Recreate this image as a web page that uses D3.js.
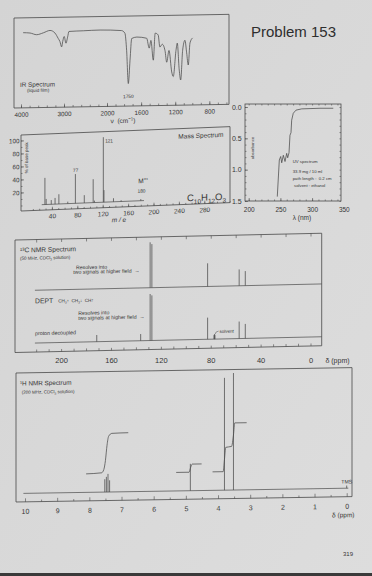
<!DOCTYPE html>
<html>
<head>
<meta charset="utf-8">
<script src="https://cdn.jsdelivr.net/npm/d3@7.9.0/dist/d3.min.js"></script>
<style>
  html, body { margin: 0; padding: 0; background: #d9d9d9; }
  svg { display: block; }
</style>
</head>
<body>
<svg id="page" width="372" height="576"></svg>
<script>
// ---------- data ----------
// IR spectrum (liquid film): wavenumber (cm-1) vs % transmittance
const irWavenumber = [3950, 3790, 3635, 3480, 3325, 3210, 3135, 3095, 3055, 3030, 2995, 2955, 2915, 2885, 2550, 2160, 1830, 1790, 1770, 1750, 1730, 1710, 1650, 1535, 1505, 1485, 1457, 1435, 1400, 1380, 1352, 1320, 1300, 1273, 1241, 1223, 1191, 1176, 1153, 1136, 1113, 1086, 1066, 1047, 1027, 996];
const irTransmittance = [83.5, 83, 81, 83, 85.5, 82.5, 76.5, 73, 67, 73, 78.5, 71, 78, 84, 84.5, 85, 84, 81, 62, 25, 51, 75, 76.5, 75, 64, 72.5, 50.5, 80.5, 78.5, 65, 68, 61, 48, 61, 37, 32, 61, 69, 39, 28, 61, 72, 58, 44.5, 69, 74.5];
const irTickLabels = [4000, 3000, 2000, 1600, 1200, 800];

// Mass spectrum: m/e vs % of base peak
const msMass = [29, 31, 39, 45, 51, 65, 77, 91, 105, 107, 121, 122, 137, 149, 180];
const msIntensity = [41, 8.5, 6.5, 9.5, 15, 3, 45, 12, 36, 3, 100, 18.5, 5.5, 2, 2.5];
const msXTickLabels = [40, 80, 120, 160, 200, 240, 280];
const msYTickLabels = [20, 40, 60, 80, 100];

// UV spectrum: wavelength (nm) vs absorbance
const uvWavelength = [245.1, 248.3, 250.5, 252.1, 254.6, 257.3, 259.9, 261.5, 263.6, 265.1, 266.7, 267.8, 270.3, 274.6, 283.6, 312.5, 333.4];
const uvAbsorbance = [1.43, 0.845, 0.79, 0.89, 0.77, 0.87, 0.74, 0.81, 0.73, 0.45, 0.41, 0.21, 0.1, 0.05, 0.03, 0.02, 0.02];
const uvXTickLabels = [200, 250, 300, 350];
const uvYTickLabels = [0, 0.5, 1.0, 1.5];

// 13C NMR: shift (ppm) vs relative height, upper trace and proton decoupled trace
const c13UpperShift = [128.6, 127.2, 82.5, 57.2, 52.3];
const c13UpperHeight = [100, 96, 51, 36, 32];
const c13LowerShift = [171.4, 136.2, 128.6, 127.2, 82.5, 77.4, 77.0, 76.6, 57.2, 52.3];
const c13LowerHeight = [14.4, 14.4, 100, 97, 46.5, 8.6, 10.8, 8.6, 36.6, 31.2];
const c13TickLabels = [200, 160, 120, 80, 40, 0];

// 1H NMR: shift (ppm) vs relative height, plus integral traces (H count)
const h1Shift = [7.52, 7.47, 7.42, 7.37, 4.86, 3.80, 3.52, 0];
const h1Height = [11, 13, 15.5, 10, 23, 96, 100, 2.3];
const h1IntegralShift = [
  [8.1, 7.62, 7.55, 7.5, 7.45, 7.4, 7.3, 6.79],
  [5.3, 4.9, 4.85, 4.8, 4.51],
  [4.17, 3.84, 3.80, 3.76, 3.58, 3.52, 3.48, 3.11]
];
const h1IntegralValue = [
  [0, 0.1, 0.5, 1.6, 3.5, 4.6, 4.95, 5],
  [0, 0, 0.6, 1, 1],
  [0, 0, 1.5, 3, 3.1, 4.5, 6, 6]
];
const h1TickLabels = d3.range(10, -1, -1);

// ---------- helpers ----------
const FONT = '"Liberation Sans", Arial, Helvetica, sans-serif';
const INK = '#4a4a4a';
const TXT = '#353535';

const svg = d3.select('#page').attr('font-family', FONT);

const grad = svg.append('defs').append('linearGradient')
  .attr('id', 'paper').attr('x1', 0).attr('y1', 0).attr('x2', 1).attr('y2', 1);
grad.append('stop').attr('offset', 0).attr('stop-color', '#d4d4d4');
grad.append('stop').attr('offset', 1).attr('stop-color', '#dddddd');
svg.append('rect').attr('width', 372).attr('height', 576).attr('fill', 'url(#paper)');
svg.append('rect').attr('y', 573).attr('width', 372).attr('height', 3).attr('fill', '#3a3a3a');

// the photo is a little tilted: each panel gets its own skew
function skewed(x0, k) {
  const deg = Math.atan(k) * 180 / Math.PI;
  return svg.append('g').attr('transform', `translate(${x0},0) skewY(${-deg}) translate(${-x0},0)`);
}

function box(g, x, y, w, h) {
  g.append('rect').attr('x', x).attr('y', y).attr('width', w).attr('height', h)
    .attr('fill', 'none').attr('stroke', INK).attr('stroke-width', 0.8);
}

function axis(g, gen, tx, ty, size) {
  const a = g.append('g').attr('transform', `translate(${tx},${ty})`).call(gen);
  a.attr('font-family', FONT).attr('font-size', size || 6);
  a.select('.domain').remove();
  a.selectAll('line').attr('stroke', INK).attr('stroke-width', 0.6);
  a.selectAll('text').attr('fill', TXT);
  return a;
}

function rich(g, x, y, size, parts, anchor) {
  const t = g.append('text').attr('x', x).attr('y', y).attr('font-size', size)
    .attr('fill', TXT).attr('text-anchor', anchor || 'start');
  let shift = 0;
  parts.forEach(p => {
    const [s, kind] = Array.isArray(p) ? p : [p, null];
    const target = kind === 'sub' ? size * 0.3 : kind === 'sup' ? -size * 0.4 : 0;
    t.append('tspan').attr('dy', target - shift)
      .attr('font-size', kind ? size * 0.68 : size).text(s);
    shift = target;
  });
  return t;
}

function sticks(g, x, y, shifts, heights) {
  g.append('g').selectAll('line').data(d3.zip(shifts, heights)).join('line')
    .attr('x1', d => x(d[0])).attr('x2', d => x(d[0]))
    .attr('y1', y(0)).attr('y2', d => y(d[1]))
    .attr('stroke', INK).attr('stroke-width', 0.75);
}

function hline(g, x, y, a, b) {
  g.append('line').attr('x1', x(a)).attr('x2', x(b)).attr('y1', y(0)).attr('y2', y(0))
    .attr('stroke', INK).attr('stroke-width', 0.7);
}

// ---------- title ----------
svg.append('text').attr('x', 251).attr('y', 37).attr('font-size', 15)
  .attr('fill', '#2e2e2e').text('Problem 153');

// ---------- IR ----------
const ir = skewed(14, 0.017);
const irX = d3.scaleLinear().domain([4000, 2000, 600]).range([21, 107, 226.4]);
const irY = d3.scaleLinear().domain([0, 100]).range([108, 18]);
box(ir, 14, 18, 215, 90);
const irMinor = d3.range(4000, 2000, -200).concat(d3.range(2000, 550, -100));
axis(ir, d3.axisBottom(irX).tickValues(irMinor).tickSizeInner(-2).tickSizeOuter(0).tickFormat(''), 0, 108);
axis(ir, d3.axisBottom(irX).tickValues(irTickLabels).tickSizeInner(-3.5).tickSizeOuter(0)
  .tickPadding(4.5).tickFormat(d3.format('d')), 0, 108, 6.3);
ir.append('path')
  .datum(d3.zip(irWavenumber, irTransmittance))
  .attr('d', d3.line().x(d => irX(d[0])).y(d => irY(d[1])).curve(d3.curveMonotoneX))
  .attr('fill', 'none').attr('stroke', INK).attr('stroke-width', 0.75);
ir.append('text').attr('x', 20).attr('y', 87).attr('font-size', 6.3).attr('fill', TXT).text('IR Spectrum');
ir.append('text').attr('x', 27).attr('y', 92.3).attr('font-size', 4.6).attr('fill', TXT).text('(liquid film)');
ir.append('text').attr('x', irX(1750)).attr('y', 100).attr('font-size', 4.8).attr('fill', TXT)
  .attr('text-anchor', 'middle').text('1750');
rich(ir, 123, 124.8, 6.5, ['ν  (cm', ['−1', 'sup'], ')'], 'middle').attr('xml:space', 'preserve');

// ---------- UV ----------
const uv = svg.append('g');
const uvX = d3.scaleLinear().domain([200, 350]).range([248.7, 343.8]);
const uvY = d3.scaleLinear().domain([0, 1.5]).range([107, 201]);
box(uv, 245, 104, 96, 97);
const uvXMinor = d3.range(200, 341, 10);
const uvYMinor = d3.range(0, 1.51, 0.1);
axis(uv, d3.axisBottom(uvX).tickValues(uvXMinor).tickSizeInner(-1.5).tickSizeOuter(0).tickFormat(''), 0, 201);
axis(uv, d3.axisBottom(uvX).tickValues([200, 250, 300]).tickSizeInner(-3).tickSizeOuter(0).tickFormat(''), 0, 201);
axis(uv, d3.axisTop(uvX).tickValues(uvXMinor).tickSizeInner(-1.5).tickSizeOuter(0).tickFormat(''), 0, 104);
axis(uv, d3.axisBottom(uvX).tickValues(uvXTickLabels).tickSize(0).tickPadding(6.5), 0, 201, 6.5);
axis(uv, d3.axisLeft(uvY).tickValues(uvYMinor).tickSizeInner(-1.5).tickSizeOuter(0).tickFormat(''), 245, 0);
axis(uv, d3.axisLeft(uvY).tickValues(uvYTickLabels).tickSizeInner(-3).tickSizeOuter(0)
  .tickPadding(3.3).tickFormat(d3.format('.1f')), 245, 0, 7);
axis(uv, d3.axisRight(uvY).tickValues(uvYMinor).tickSizeInner(-1.5).tickSizeOuter(0).tickFormat(''), 341, 0);
uv.append('path')
  .datum(d3.zip(uvWavelength, uvAbsorbance))
  .attr('d', d3.line().x(d => uvX(d[0])).y(d => uvY(d[1])))
  .attr('fill', 'none').attr('stroke', INK).attr('stroke-width', 0.75);
uv.append('text').attr('transform', 'translate(253.5,148) rotate(-90)').attr('font-size', 4.3)
  .attr('fill', TXT).attr('text-anchor', 'middle').text('absorbance');
[['UV spectrum', 292.7, 163.2], ['33.9 mg / 10 ml', 292.7, 173.2],
 ['path length :  0.2 cm', 292.7, 179.8], ['solvent : ethanol', 294, 186.5]].forEach(([s, x, y]) => {
  uv.append('text').attr('x', x).attr('y', y).attr('font-size', 4.3).attr('fill', TXT)
    .attr('xml:space', 'preserve').text(s);
});
uv.append('text').attr('x', 302).attr('y', 220).attr('font-size', 6.5).attr('fill', TXT)
  .attr('text-anchor', 'middle').text('λ (nm)');

// ---------- Mass spectrum ----------
const ms = skewed(21, 0.04);
const msX = d3.scaleLinear().domain([0, 280]).range([26.5, 204.3]);
const msY = d3.scaleLinear().domain([0, 100]).range([205.5, 140.5]);
box(ms, 21, 135, 209, 76);
axis(ms, d3.axisBottom(msX).tickValues(d3.range(10, 321, 10)).tickSizeInner(-1.5).tickSizeOuter(0).tickFormat(''), 0, 211);
axis(ms, d3.axisBottom(msX).tickValues(msXTickLabels).tickSizeInner(-3).tickSizeOuter(0).tickPadding(3.9), 0, 211, 6.5);
axis(ms, d3.axisLeft(msY).tickValues(d3.range(0, 101, 10)).tickSizeInner(-1.5).tickSizeOuter(0).tickFormat(''), 21, 0);
axis(ms, d3.axisLeft(msY).tickValues(msYTickLabels).tickSizeInner(-3).tickSizeOuter(0).tickPadding(1.5), 21, 0, 6.3);
hline(ms, msX, msY, 24, 185);
sticks(ms, msX, msY, msMass, msIntensity);
ms.append('text').attr('transform', 'translate(28,158) rotate(-90)').attr('font-size', 4.5)
  .attr('fill', TXT).attr('text-anchor', 'middle').text('% of base peak');
ms.append('text').attr('x', 223.5).attr('y', 145).attr('font-size', 6.5).attr('fill', TXT)
  .attr('text-anchor', 'end').text('Mass Spectrum');
ms.append('text').attr('x', msX(121) + 1.8).attr('y', 146).attr('font-size', 4.6).attr('fill', TXT).text('121');
ms.append('text').attr('x', msX(77) - 2.3).attr('y', 174).attr('font-size', 4.6).attr('fill', TXT).text('77');
rich(ms, 138.3, 188, 6.5, ['M', ['+•', 'sup']]);
ms.append('text').attr('x', 141.5).attr('y', 197.5).attr('font-size', 4.8).attr('fill', TXT)
  .attr('text-anchor', 'middle').text('180');
rich(ms, 187, 208, 9.5, ['C', ['10', 'sub'], 'H', ['12', 'sub'], 'O', ['3', 'sub']]);
ms.append('text').attr('x', 119).attr('y', 226).attr('font-size', 6.5).attr('fill', TXT)
  .attr('font-style', 'italic').attr('text-anchor', 'middle').attr('xml:space', 'preserve').text('m / e');

// ---------- 13C NMR ----------
const c13 = skewed(15, 0.022);
const cX = d3.scaleLinear().domain([0, 200]).range([310.5, 61.1]);
const cUpperY = d3.scaleLinear().domain([0, 100]).range([290.7, 245.3]);
const cLowerY = d3.scaleLinear().domain([0, 100]).range([343.5, 297]);
box(c13, 15, 240, 306.7, 112.5);
axis(c13, d3.axisTop(cX).tickValues(d3.range(0, 221, 20)).tickSizeInner(-3).tickSizeOuter(0).tickFormat(''), 0, 240);
axis(c13, d3.axisBottom(cX).tickValues(d3.range(0, 221, 10)).tickSizeInner(-2.5).tickSizeOuter(0).tickFormat(''), 0, 352.5);
hline(c13, cX, cUpperY, 221, -9);
hline(c13, cX, cLowerY, 221, -9);
sticks(c13, cX, cUpperY, c13UpperShift, c13UpperHeight);
sticks(c13, cX, cLowerY, c13LowerShift, c13LowerHeight);
c13.append('text').attr('x', 20).attr('y', 252.5).attr('font-size', 6.6).attr('fill', TXT).text('¹³C NMR Spectrum');
rich(c13, 20, 260, 4.5, ['(50 MHz, CDCl', ['3', 'sub'], ' solution)']);
[[76, 270.6, 73.3, 275.2], [78.3, 316.3, 78.3, 321.3]].forEach(([x1, y1, x2, y2]) => {
  c13.append('text').attr('x', x1).attr('y', y1).attr('font-size', 5.2).attr('fill', TXT).text('Resolves into');
  c13.append('text').attr('x', x2).attr('y', y2).attr('font-size', 5.2).attr('fill', TXT)
    .attr('xml:space', 'preserve').text('two signals at higher field  →');
});
c13.append('text').attr('x', 35).attr('y', 303.8).attr('font-size', 6.8).attr('fill', TXT).text('DEPT');
rich(c13, 58.3, 303.5, 4.6, ['CH', ['3', 'sub'], '↑  CH', ['2', 'sub'], '↓  CH↑']).attr('xml:space', 'preserve');
c13.append('text').attr('x', 35).attr('y', 335.6).attr('font-size', 5.3).attr('fill', TXT).text('proton decoupled');
c13.append('text').attr('x', 219.5).attr('y', 337.5).attr('font-size', 4.5).attr('fill', TXT).text('solvent');
c13.append('path').attr('d', 'M218.6,335.6 Q215.6,335.6 215,338.8').attr('fill', 'none')
  .attr('stroke', INK).attr('stroke-width', 0.5);
axis(svg, d3.axisBottom(cX).tickValues(c13TickLabels).tickSize(0).tickPadding(4.7), 0, 352.5, 7.5);
svg.append('text').attr('x', 337.5).attr('y', 362.5).attr('font-size', 7).attr('fill', TXT)
  .attr('text-anchor', 'middle').text('δ (ppm)');

// ---------- 1H NMR ----------
const h1 = skewed(16, 0.016);
const hX = d3.scaleLinear().domain([10, 0]).range([25, 346.7]);
const hY = d3.scaleLinear().domain([0, 100]).range([493.5, 376.5]);
const hInt = d3.scaleLinear().domain([0, 6]).range([475, 426.4]);
box(h1, 16, 373, 336, 129);
axis(h1, d3.axisBottom(hX).tickValues(d3.range(0.5, 10, 1)).tickSizeInner(-2).tickSizeOuter(0).tickFormat(''), 0, 502);
axis(h1, d3.axisBottom(hX).tickValues(h1TickLabels).tickSizeInner(-3.5).tickSizeOuter(0).tickPadding(7), 0, 502, 7);
hline(h1, hX, hY, 10.05, -0.05);
sticks(h1, hX, hY, h1Shift, h1Height);
const intLine = d3.line().x(d => hX(d[0])).y(d => hInt(d[1])).curve(d3.curveMonotoneX);
h1.append('g').selectAll('path').data(h1IntegralShift.map((s, i) => d3.zip(s, h1IntegralValue[i]))).join('path')
  .attr('d', intLine).attr('fill', 'none').attr('stroke', INK).attr('stroke-width', 0.75);
h1.append('text').attr('x', 20).attr('y', 385.6).attr('font-size', 6.3).attr('fill', TXT).text('¹H NMR Spectrum');
rich(h1, 21.7, 393.9, 4.5, ['(200 MHz, CDCl', ['3', 'sub'], ' solution)']);
h1.append('text').attr('x', hX(0)).attr('y', 488.8).attr('font-size', 5.2).attr('fill', TXT)
  .attr('text-anchor', 'middle').text('TMS');
h1.append('text').attr('x', 343.3).attr('y', 522.5).attr('font-size', 6.5).attr('fill', TXT)
  .attr('text-anchor', 'middle').text('δ (ppm)');

// ---------- page number ----------
svg.append('text').attr('x', 348).attr('y', 555.5).attr('font-size', 6).attr('fill', TXT)
  .attr('text-anchor', 'middle').text('319');
</script>
</body>
</html>
